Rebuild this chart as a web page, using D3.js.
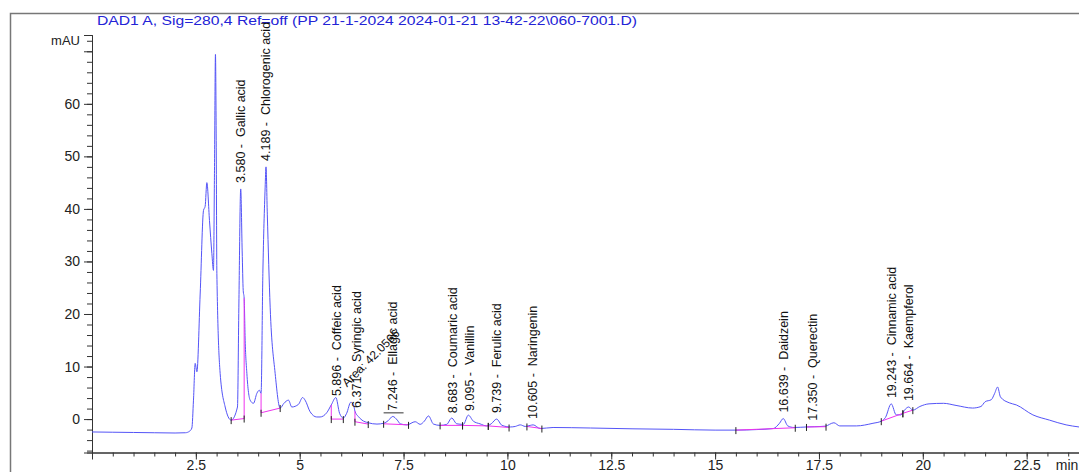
<!DOCTYPE html>
<html>
<head>
<meta charset="utf-8">
<script src="https://cdn.jsdelivr.net/npm/d3@7"></script>
<style>
  body { margin: 0; background: #fff; }
  text { font-family: "Liberation Sans", Arial, sans-serif; }
</style>
</head>
<body>
<div id="chart"></div>
<script>
// chromatogram trace: retention time (min) and signal (mAU)
const traceTime = [
  0, 0.5, 1.0, 1.5, 2.0, 2.25, 2.35, 2.404, 2.443, 2.484, 2.525, 2.604, 2.684, 2.724, 2.765, 2.828,
  2.886, 2.924, 2.948, 2.972, 2.99, 3.006, 3.085, 3.206, 3.35, 3.502, 3.535, 3.58, 3.615, 3.64,
  3.663, 3.687, 3.728, 3.807, 3.887, 3.969, 4.03, 4.07, 4.113, 4.168, 4.189, 4.22, 4.289, 4.409,
  4.53, 4.62, 4.73, 4.81, 4.97, 5.07, 5.13, 5.25, 5.41, 5.49, 5.65, 5.76, 5.87, 5.96, 6.05, 6.13,
  6.23, 6.3, 6.33, 6.41, 6.5, 6.65, 6.86, 7.02, 7.13, 7.24, 7.35, 7.42, 7.58, 7.78, 7.9, 8.0,
  8.1, 8.22, 8.38, 8.54, 8.66, 8.78, 8.94, 9.06, 9.18, 9.34, 9.5, 9.61, 9.74, 9.87, 10.07, 10.19,
  10.31, 10.43, 10.55, 10.62, 10.79, 11.1, 12.0, 13.0, 14.0, 15.0, 15.5, 16.0, 16.4, 16.55, 16.64,
  16.75, 16.9, 17.2, 17.4, 17.65, 17.86, 18.0, 18.4, 18.8, 19.0, 19.1, 19.24, 19.36, 19.47, 19.58,
  19.66, 19.76, 19.93, 20.15, 20.5, 20.8, 21.2, 21.4, 21.5, 21.65, 21.73, 21.8, 21.87, 22.08,
  22.25, 22.65, 23.05, 23.45, 23.76
];
const traceSignal = [
  -2.45, -2.5, -2.55, -2.6, -2.65, -2.6, -2.3, -1.7, 3.6, 10.6, 9.0, 23.8, 39.7, 40.5, 45, 37.8,
  31.5, 28.3, 46.7, 69.4, 53, 27.7, 8.7, 2.3, -0.2, 2.3, 21.3, 43.8, 32, 24.5,
  23, 15, 8.7, 3.6, 3.0, 4.9, 5.5, 4.9, 27.7, 44, 48, 39, 21.3, 8.7,
  2.1, 3.0, 3.6, 2.3, 2.8, 4.1, 3.6, 1.4, 0.4, 0.4, 1.2, 2.7, 4.1, 1.1, 0.2, 1.1,
  3.2, 2.6, 1.5, 0.5, -0.2, -0.7, -0.95, -0.8, -0.3, 0.5, -0.2, -0.9, -1.1, -0.5, -1.0, -0.4,
  0.6, -0.95, -1.2, -1.0, 0.2, -0.9, -1.0, 0.75, -0.4, -0.9, -1.3, -0.9, 0.0, -1.2, -1.5, -1.4,
  -1.1, -1.4, -1.2, -1.1, -1.8, -1.6, -1.7, -1.85, -1.95, -2.1, -2.1, -2.0, -1.8, -0.8, 0.1,
  -1.3, -1.6, -1.5, -1.45, -1.35, -0.7, -1.3, -1.3, -0.8, -0.4, 0.3, 2.9, 0.8, 0.8, 1.9,
  2.3, 1.7, 2.4, 2.9, 3.0, 2.6, 2.1, 2.4, 3.3, 3.7, 4.9, 6.1, 4.2, 3.1,
  2.7, 0.8, -0.2, -1.1, -1.5
];

// identified peaks
const peakTimes = [3.580, 4.189, 5.896, 6.371, 7.246, 8.683, 9.095, 9.739, 10.605, 16.639, 17.350, 19.243, 19.664];
const peakNames = ["Gallic acid", "Chlorogenic acid", "Coffeic acid", "Syringic acid", "Ellagic acid",
  "Coumaric acid", "Vanillin", "Ferulic acid", "Naringenin", "Daidzein", "Querectin", "Cinnamic acid", "Kaempferol"];

// integration baselines: [start time, start mAU, end time, end mAU]
const baselines = [
  [3.35, -0.2, 3.663, 0.1], [4.07, 1.2, 4.53, 2.1], [5.76, 0.0, 6.05, 0.0], [6.33, -0.5, 6.65, -0.95],
  [7.02, -0.9, 7.62, -1.1], [8.38, -1.2, 8.92, -1.2], [8.92, -1.2, 9.54, -1.3], [9.54, -1.3, 10.04, -1.6],
  [10.47, -1.4, 10.83, -1.8], [15.5, -2.1, 16.93, -1.65], [17.2, -1.5, 17.67, -1.45],
  [19.0, -0.4, 19.52, 1.1], [19.52, 1.1, 19.76, 1.7]
];
// drop lines: [time, from mAU, to mAU]
const dropLines = [[3.663, 0.1, 23], [4.07, 1.2, 4.9], [5.76, 0.0, 2.7], [6.33, -0.5, 1.5]];

const xMajorTicks = [2.5, 5, 7.5, 10, 12.5, 15, 17.5, 20, 22.5];
const yMajorTicks = [0, 10, 20, 30, 40, 50, 60];

const svgWidth = 1079;
const svgHeight = 472;

const x = d3.scaleLinear().domain([0, 23.76]).range([92, 1079]);
const y = d3.scaleLinear().domain([-6.36, 73.1]).range([452.5, 35]);

const svg = d3.select("#chart")
  .append("svg")
  .attr("width", svgWidth)
  .attr("height", svgHeight);

// frame
svg.append("path")
  .attr("d", `M10.5,${svgHeight + 5} V13.5 H${svgWidth + 5}`)
  .attr("fill", "none")
  .attr("stroke", "#777")
  .attr("stroke-width", 1.5);

svg.append("text")
  .attr("x", 97)
  .attr("y", 25)
  .attr("fill", "#2323d6")
  .style("font-size", "13.5px")
  .attr("textLength", 540)
  .attr("lengthAdjust", "spacingAndGlyphs")
  .text("DAD1 A, Sig=280,4 Ref=off (PP 21-1-2024 2024-01-21 13-42-22\\060-7001.D)");

// y axis
const yAxisG = svg.append("g").attr("transform", "translate(92,0)");
yAxisG.call(d3.axisLeft(y).tickValues(d3.range(-6, 73, 2)).tickSize(5).tickFormat(""));
yAxisG.call(g => g.append("g").call(d3.axisLeft(y).tickValues(yMajorTicks.concat([70])).tickSize(8)
  .tickFormat(d => d === 70 ? "" : d)));
yAxisG.selectAll(".domain").attr("stroke", "#333");
yAxisG.selectAll("line").attr("stroke", "#333");
yAxisG.selectAll("text").attr("fill", "#222").style("font-size", "14px").attr("x", -12);
yAxisG.append("text")
  .attr("x", -12)
  .attr("y", y(72))
  .attr("dy", "0.32em")
  .attr("text-anchor", "end")
  .attr("fill", "#222")
  .style("font-size", "13px")
  .text("mAU");

// x axis
const xAxisG = svg.append("g").attr("transform", `translate(0,${y(-6.36)})`);
xAxisG.call(d3.axisBottom(x).tickValues(d3.range(0.5, 23.76, 0.5)).tickSize(4).tickFormat(""));
xAxisG.call(g => g.append("g").call(d3.axisBottom(x).tickValues(xMajorTicks).tickSize(7)
  .tickFormat(d => String(d))));
xAxisG.selectAll(".domain").attr("stroke", "#333");
xAxisG.selectAll("line").attr("stroke", "#333");
xAxisG.selectAll("text").attr("fill", "#222").style("font-size", "14px").attr("y", 8);
xAxisG.append("text")
  .attr("x", 1067)
  .attr("y", 8)
  .attr("dy", "0.71em")
  .attr("fill", "#222")
  .style("font-size", "14px")
  .text("min");

const trace = traceTime.map((t, i) => [t, traceSignal[i]]);

// trace
svg.append("path")
  .datum(trace)
  .attr("fill", "none")
  .attr("stroke", "#5454f7")
  .attr("stroke-width", 1)
  .attr("d", d3.line().x(d => x(d[0])).y(d => y(d[1])).curve(d3.curveMonotoneX));

// baselines and drop lines
svg.selectAll(".base")
  .data(baselines)
  .enter()
  .append("line")
  .attr("class", "base")
  .attr("x1", d => x(d[0])).attr("y1", d => y(d[1]))
  .attr("x2", d => x(d[2])).attr("y2", d => y(d[3]))
  .attr("stroke", "#ee33ee")
  .attr("stroke-width", 1);

svg.selectAll(".drop")
  .data(dropLines)
  .enter()
  .append("line")
  .attr("class", "drop")
  .attr("x1", d => x(d[0])).attr("y1", d => y(d[1]))
  .attr("x2", d => x(d[0])).attr("y2", d => y(d[2]))
  .attr("stroke", "#ee33ee")
  .attr("stroke-width", 1);

const ends = baselines.flatMap(d => [[d[0], d[1]], [d[2], d[3]]]);
svg.selectAll(".tick-mark")
  .data(ends)
  .enter()
  .append("line")
  .attr("class", "tick-mark")
  .attr("x1", d => x(d[0])).attr("x2", d => x(d[0]))
  .attr("y1", d => y(d[1]) - 3).attr("y2", d => y(d[1]) + 4)
  .attr("stroke", "#222")
  .attr("stroke-width", 1);

// peak labels sit just above the trace at the retention time
const bisect = d3.bisector(d => d).left;
const signalAt = t => {
  const i = Math.max(1, bisect(traceTime, t));
  const t0 = traceTime[i - 1], t1 = traceTime[i];
  const k = (t - t0) / (t1 - t0);
  return traceSignal[i - 1] + k * (traceSignal[i] - traceSignal[i - 1]);
};

svg.selectAll(".peak-label")
  .data(peakTimes)
  .enter()
  .append("text")
  .attr("class", "peak-label")
  .attr("transform", d => `translate(${x(d)},${y(signalAt(d)) - 6}) rotate(-90)`)
  .attr("dy", "0.35em")
  .attr("fill", "#111")
  .style("font-size", "12.5px")
  .style("white-space", "pre")
  .text((d, i) => `${d.toFixed(3)} -  ${peakNames[i]}`);

// stray area annotation
svg.append("line")
  .attr("x1", x(7.02)).attr("x2", x(7.5))
  .attr("y1", y(1.2)).attr("y2", y(1.2))
  .attr("stroke", "#777")
  .attr("stroke-width", 1.5);

svg.append("text")
  .attr("transform", `translate(${x(6.14)},${y(6)}) rotate(-45)`)
  .attr("fill", "#111")
  .style("font-size", "12px")
  .text("Area: 42.0566");
</script>
</body>
</html>
